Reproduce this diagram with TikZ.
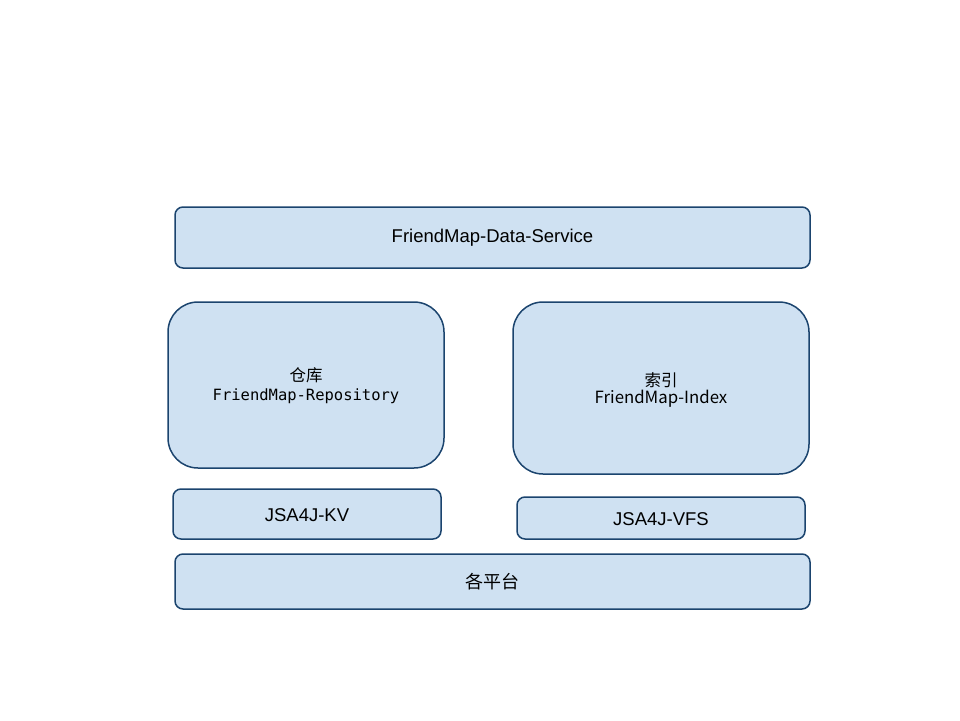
\documentclass[tikz,border=0pt]{standalone}
\usepackage{fontspec}
\setmainfont{Liberation Sans}
\newfontfamily\cjk{Noto Sans CJK SC}
\newfontfamily\monof{DejaVu Sans Mono}
\definecolor{boxfill}{HTML}{CFE1F2}
\definecolor{boxline}{HTML}{1B446E}
\begin{document}
\begin{tikzpicture}[x=1pt,y=-1pt,
  layer/.style={draw=boxline,fill=boxfill,line width=1.5pt,rounded corners=8pt},
  bigbox/.style={draw=boxline,fill=boxfill,line width=1.5pt,rounded corners=30pt},
  lbl/.style={inner sep=0pt}]
\useasboundingbox (0,0) rectangle (960,720);
\draw[layer] (175,207) rectangle (810,268);
\node[lbl] (svc) at (492.5,238) {\fontsize{18.5}{20}\selectfont FriendMap-Data-Service};
\draw[bigbox] (168,302) rectangle (444,468);
\node[lbl] (repocn) at (306,375) {\cjk\fontsize{16.5}{20}\selectfont 仓库};
\node[lbl] (repo) at (306,396) {\monof\fontsize{15.5}{18}\selectfont FriendMap-Repository};
\draw[bigbox] (513,302) rectangle (809,474);
\node[lbl] (idxcn) at (661,380) {\cjk\fontsize{16.5}{20}\selectfont 索引};
\node[lbl] (idx) at (661,399) {\cjk\fontsize{16.8}{20}\selectfont FriendMap-Index};
\draw[layer] (173,489) rectangle (441,539);
\node[lbl] (kv) at (307,515) {\fontsize{18.5}{20}\selectfont JSA4J-KV};
\draw[layer] (517,497) rectangle (805,539);
\node[lbl] (vfs) at (661,519) {\fontsize{18.5}{20}\selectfont JSA4J-VFS};
\draw[layer] (175,554) rectangle (810,609);
\node[lbl] (plat) at (492.5,582) {\cjk\fontsize{18}{20}\selectfont 各平台};
\end{tikzpicture}
\end{document}
